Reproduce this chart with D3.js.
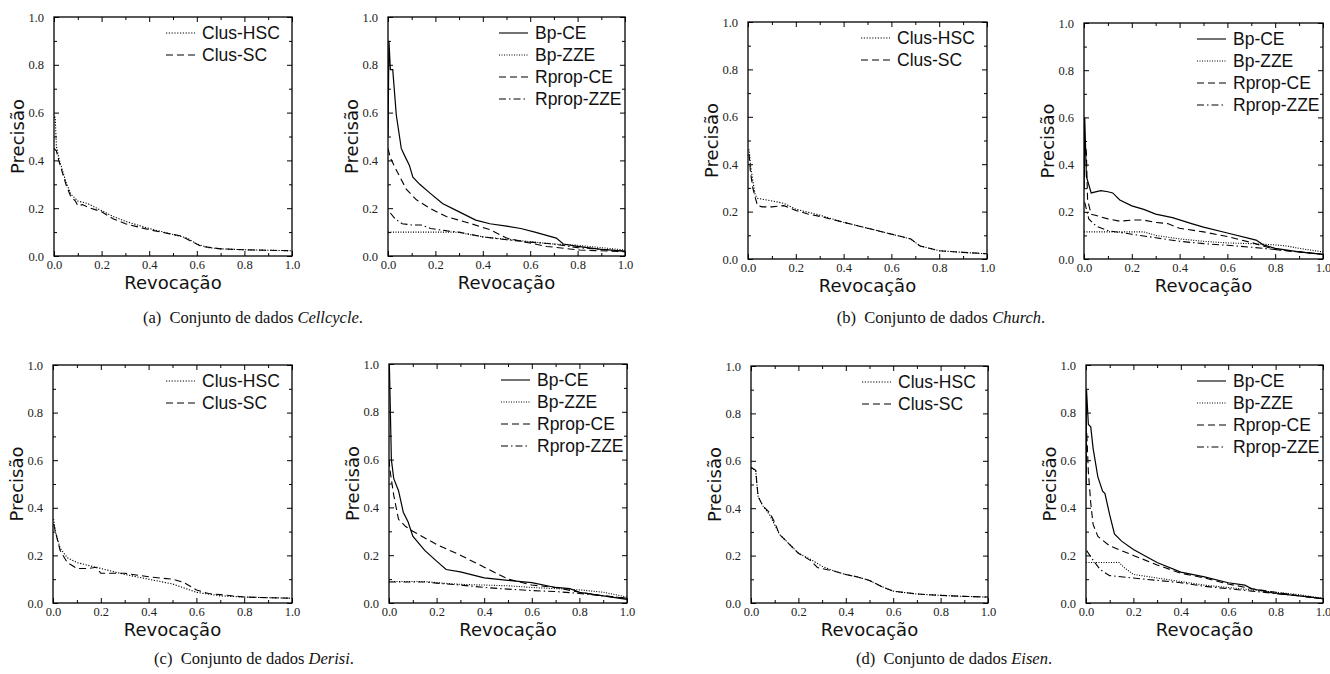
<!DOCTYPE html>
<html>
<head>
<meta charset="utf-8">
<script src="https://cdn.jsdelivr.net/npm/d3@7"></script>
<style>
  body { margin: 0; background: #fff; }
  svg { display: block; }
  .tick-label { font-family: "Liberation Serif", "Times New Roman", serif; font-size: 12.5px; fill: #222; }
  .axis-title { font-family: "DejaVu Sans", sans-serif; font-size: 18px; fill: #111; }
  .legend-text { font-family: "Liberation Sans", Arial, sans-serif; font-size: 17.5px; fill: #111; }
  .caption { font-family: "Liberation Serif", "Times New Roman", serif; font-size: 16.5px; fill: #111; }
</style>
</head>
<body>
<svg id="chart" width="1330" height="674"></svg>
<script>
// tick values shared by every panel
const majorTicks = [0, 0.2, 0.4, 0.6, 0.8, 1.0];
const minorTicks = [0.1, 0.3, 0.5, 0.7, 0.9];

// series names
const clusNames = ["Clus-HSC", "Clus-SC"];
const mlpNames = ["Bp-CE", "Bp-ZZE", "Rprop-CE", "Rprop-ZZE"];

// [recall, precision]
// Cellcycle
const cellHSC = [[0,0.58],[0.005,0.58],[0.01,0.46],[0.02,0.41],[0.05,0.31],[0.07,0.26],[0.1,0.23],[0.14,0.22],[0.2,0.19],[0.25,0.165],[0.3,0.145],[0.4,0.115],[0.5,0.09],[0.56,0.075],[0.6,0.05],[0.65,0.035],[0.7,0.03],[0.8,0.026],[0.9,0.024],[1.0,0.022]];
const cellSC = [[0,0.45],[0.01,0.44],[0.02,0.40],[0.05,0.30],[0.07,0.25],[0.09,0.23],[0.1,0.21],[0.12,0.215],[0.14,0.205],[0.2,0.185],[0.25,0.155],[0.3,0.135],[0.4,0.11],[0.5,0.09],[0.53,0.085],[0.58,0.06],[0.62,0.04],[0.7,0.03],[0.8,0.026],[1.0,0.022]];
const cellBpCE = [[0,0.5],[0.004,0.9],[0.01,0.78],[0.02,0.78],[0.035,0.59],[0.056,0.45],[0.07,0.42],[0.09,0.38],[0.105,0.33],[0.134,0.30],[0.176,0.264],[0.23,0.22],[0.29,0.19],[0.37,0.15],[0.43,0.135],[0.5,0.125],[0.56,0.115],[0.62,0.1],[0.71,0.075],[0.74,0.05],[0.8,0.04],[0.9,0.028],[1.0,0.02]];
const cellBpZZE = [[0,0.1],[0.1,0.1],[0.2,0.1],[0.28,0.1],[0.3,0.098],[0.4,0.08],[0.5,0.07],[0.6,0.06],[0.7,0.05],[0.8,0.045],[0.9,0.035],[1.0,0.025]];
const cellRpCE = [[0,0.45],[0.01,0.41],[0.035,0.36],[0.077,0.28],[0.12,0.235],[0.176,0.20],[0.246,0.165],[0.345,0.137],[0.43,0.11],[0.5,0.075],[0.57,0.06],[0.67,0.04],[0.81,0.025],[1.0,0.018]];
const cellRpZZE = [[0.01,0.18],[0.03,0.155],[0.06,0.135],[0.1,0.13],[0.14,0.13],[0.18,0.115],[0.25,0.105],[0.3,0.1],[0.4,0.08],[0.5,0.068],[0.6,0.058],[0.7,0.05],[0.8,0.035],[0.9,0.028],[1.0,0.02]];
// Church
const churHSC = [[0,0.46],[0.005,0.46],[0.01,0.4],[0.02,0.33],[0.03,0.27],[0.04,0.256],[0.1,0.245],[0.15,0.235],[0.2,0.21],[0.3,0.185],[0.4,0.155],[0.5,0.13],[0.6,0.105],[0.68,0.085],[0.72,0.055],[0.8,0.035],[0.9,0.028],[1.0,0.022]];
const churSC = [[0,0.44],[0.005,0.44],[0.01,0.37],[0.02,0.3],[0.03,0.26],[0.04,0.225],[0.06,0.22],[0.1,0.22],[0.15,0.225],[0.2,0.205],[0.25,0.19],[0.3,0.18],[0.4,0.155],[0.5,0.13],[0.6,0.105],[0.68,0.085],[0.72,0.055],[0.8,0.035],[0.9,0.028],[1.0,0.022]];
const churBpCE = [[0,0.3],[0.003,0.6],[0.01,0.35],[0.03,0.28],[0.07,0.29],[0.1,0.285],[0.12,0.28],[0.15,0.25],[0.2,0.225],[0.25,0.21],[0.3,0.19],[0.37,0.175],[0.45,0.15],[0.5,0.135],[0.6,0.11],[0.72,0.08],[0.75,0.06],[0.8,0.045],[0.9,0.03],[1.0,0.02]];
const churBpZZE = [[0,0.115],[0.1,0.115],[0.25,0.115],[0.3,0.1],[0.4,0.085],[0.5,0.075],[0.6,0.068],[0.7,0.065],[0.8,0.06],[0.85,0.055],[0.9,0.045],[1.0,0.03]];
const churRpCE = [[0,0.3],[0.005,0.5],[0.01,0.45],[0.015,0.25],[0.03,0.19],[0.1,0.17],[0.15,0.16],[0.2,0.165],[0.25,0.165],[0.3,0.155],[0.35,0.15],[0.4,0.13],[0.5,0.115],[0.6,0.095],[0.7,0.07],[0.8,0.04],[0.9,0.03],[1.0,0.02]];
const churRpZZE = [[0.003,0.24],[0.02,0.17],[0.05,0.14],[0.1,0.12],[0.2,0.105],[0.3,0.09],[0.4,0.075],[0.5,0.065],[0.6,0.058],[0.7,0.05],[0.8,0.04],[0.9,0.03],[1.0,0.02]];
// Derisi
const derHSC = [[0,0.35],[0.003,0.35],[0.01,0.3],[0.03,0.23],[0.06,0.19],[0.1,0.17],[0.2,0.145],[0.3,0.12],[0.4,0.1],[0.5,0.08],[0.6,0.045],[0.7,0.03],[0.8,0.025],[1.0,0.02]];
const derSC = [[0,0.33],[0.003,0.33],[0.01,0.3],[0.03,0.22],[0.06,0.17],[0.1,0.145],[0.15,0.145],[0.18,0.15],[0.2,0.125],[0.3,0.125],[0.4,0.11],[0.5,0.1],[0.55,0.085],[0.6,0.055],[0.65,0.04],[0.7,0.035],[0.8,0.025],[1.0,0.02]];
const derBpCE = [[0,1.0],[0.002,0.98],[0.01,0.6],[0.02,0.52],[0.04,0.47],[0.06,0.38],[0.08,0.34],[0.1,0.28],[0.15,0.22],[0.2,0.175],[0.24,0.14],[0.3,0.13],[0.4,0.105],[0.5,0.095],[0.6,0.085],[0.7,0.065],[0.76,0.06],[0.8,0.045],[0.9,0.03],[1.0,0.015]];
const derBpZZE = [[0,0.09],[0.15,0.09],[0.2,0.085],[0.3,0.078],[0.4,0.075],[0.5,0.072],[0.6,0.065],[0.7,0.06],[0.8,0.055],[0.9,0.045],[1.0,0.025]];
const derRpCE = [[0,0.6],[0.005,0.55],[0.02,0.45],[0.04,0.35],[0.07,0.32],[0.1,0.3],[0.2,0.245],[0.3,0.2],[0.4,0.15],[0.5,0.1],[0.6,0.075],[0.7,0.065],[0.8,0.045],[0.9,0.03],[1.0,0.02]];
const derRpZZE = [[0,0.088],[0.15,0.088],[0.2,0.083],[0.3,0.075],[0.4,0.065],[0.5,0.058],[0.6,0.052],[0.7,0.048],[0.8,0.04],[0.9,0.03],[1.0,0.02]];
// Eisen
const eisHSC = [[0,0.57],[0.003,0.57],[0.02,0.56],[0.025,0.5],[0.03,0.45],[0.05,0.41],[0.08,0.37],[0.1,0.33],[0.12,0.29],[0.15,0.26],[0.2,0.21],[0.25,0.185],[0.3,0.155],[0.35,0.135],[0.4,0.12],[0.45,0.11],[0.5,0.095],[0.55,0.07],[0.6,0.05],[0.7,0.038],[0.8,0.032],[0.9,0.028],[1.0,0.025]];
const eisSC = [[0,0.57],[0.003,0.57],[0.02,0.56],[0.025,0.5],[0.03,0.45],[0.05,0.41],[0.08,0.38],[0.1,0.34],[0.12,0.29],[0.15,0.26],[0.2,0.21],[0.25,0.18],[0.28,0.15],[0.3,0.145],[0.35,0.135],[0.4,0.12],[0.45,0.11],[0.5,0.095],[0.55,0.07],[0.6,0.05],[0.7,0.038],[0.8,0.032],[0.9,0.028],[1.0,0.025]];
const eisBpCE = [[0,0.5],[0.002,0.9],[0.01,0.75],[0.02,0.74],[0.03,0.65],[0.05,0.53],[0.07,0.47],[0.08,0.46],[0.1,0.37],[0.12,0.29],[0.15,0.26],[0.2,0.225],[0.3,0.17],[0.4,0.13],[0.5,0.11],[0.6,0.085],[0.67,0.075],[0.7,0.06],[0.8,0.04],[0.9,0.03],[1.0,0.018]];
const eisBpZZE = [[0,0.17],[0.14,0.17],[0.16,0.15],[0.2,0.12],[0.3,0.105],[0.4,0.09],[0.5,0.075],[0.6,0.065],[0.7,0.055],[0.8,0.045],[0.9,0.035],[1.0,0.02]];
const eisRpCE = [[0,0.5],[0.003,0.72],[0.01,0.55],[0.02,0.42],[0.03,0.33],[0.05,0.28],[0.1,0.24],[0.2,0.2],[0.3,0.16],[0.4,0.125],[0.5,0.105],[0.6,0.08],[0.7,0.06],[0.8,0.045],[0.9,0.03],[1.0,0.018]];
const eisRpZZE = [[0.003,0.22],[0.03,0.18],[0.06,0.14],[0.1,0.115],[0.2,0.105],[0.3,0.095],[0.4,0.085],[0.5,0.07],[0.6,0.06],[0.7,0.05],[0.8,0.04],[0.9,0.03],[1.0,0.018]];

// captions
const captions = [
  {tag: "(a)", name: "Cellcycle"},
  {tag: "(b)", name: "Church"},
  {tag: "(c)", name: "Derisi"},
  {tag: "(d)", name: "Eisen"}
];

// line style per series
const dashes = {
  "Clus-HSC": "1.2,1.6",
  "Clus-SC": "7,4",
  "Bp-CE": null,
  "Bp-ZZE": "1,1.5",
  "Rprop-CE": "7,4",
  "Rprop-ZZE": "7,3,1.5,3"
};

// panel boxes (pixels) with their series
const panels = [
  {l: 54, r: 292, t: 17, b: 256, names: clusNames, data: [cellHSC, cellSC]},
  {l: 388, r: 625, t: 17, b: 256, names: mlpNames, data: [cellBpCE, cellBpZZE, cellRpCE, cellRpZZE]},
  {l: 748, r: 987, t: 22, b: 259, names: clusNames, data: [churHSC, churSC]},
  {l: 1084, r: 1323, t: 23, b: 259, names: mlpNames, data: [churBpCE, churBpZZE, churRpCE, churRpZZE]},
  {l: 53, r: 292, t: 365, b: 603, names: clusNames, data: [derHSC, derSC]},
  {l: 389, r: 627, t: 364, b: 603, names: mlpNames, data: [derBpCE, derBpZZE, derRpCE, derRpZZE]},
  {l: 751, r: 988, t: 366, b: 603, names: clusNames, data: [eisHSC, eisSC]},
  {l: 1086, r: 1323, t: 365, b: 603, names: mlpNames, data: [eisBpCE, eisBpZZE, eisRpCE, eisRpZZE]}
];
const captionPos = [[253, 323], [941, 323], [254, 664], [954, 664]];

const svg = d3.select("#chart");
const fmt = d3.format(".1f");

panels.forEach(function(p) {
  const x = d3.scaleLinear().domain([0, 1]).range([p.l, p.r]);
  const y = d3.scaleLinear().domain([0, 1]).range([p.b, p.t]);
  const g = svg.append("g");

  // curves, clipped to the box
  const clipId = "clip" + p.l + "_" + p.t;
  svg.append("clipPath").attr("id", clipId)
    .append("rect").attr("x", p.l).attr("y", p.t - 1).attr("width", p.r - p.l).attr("height", p.b - p.t + 1);
  const line = d3.line().x(d => x(d[0])).y(d => y(d[1]));
  p.data.forEach(function(series, i) {
    g.append("path")
      .datum(series)
      .attr("clip-path", "url(#" + clipId + ")")
      .attr("d", line)
      .attr("fill", "none")
      .attr("stroke", "#000")
      .attr("stroke-width", p.names[i] == "Bp-CE" ? 1.2 : 1.1)
      .attr("stroke-dasharray", dashes[p.names[i]]);
  });

  // inside ticks on all four sides
  const axes = [
    d3.axisBottom(x).tickValues(majorTicks).tickSize(-5).tickFormat(fmt).tickPadding(10),
    d3.axisLeft(y).tickValues(majorTicks).tickSize(-5).tickFormat(fmt).tickPadding(10),
    d3.axisTop(x).tickValues(majorTicks).tickSize(-5).tickFormat(""),
    d3.axisRight(y).tickValues(majorTicks).tickSize(-5).tickFormat("")
  ];
  const minor = [
    d3.axisBottom(x).tickValues(minorTicks).tickSize(-3).tickFormat(""),
    d3.axisLeft(y).tickValues(minorTicks).tickSize(-3).tickFormat(""),
    d3.axisTop(x).tickValues(minorTicks).tickSize(-3).tickFormat(""),
    d3.axisRight(y).tickValues(minorTicks).tickSize(-3).tickFormat("")
  ];
  const shifts = ["0," + p.b, p.l + ",0", "0," + p.t, p.r + ",0"];
  axes.forEach(function(ax, k) {
    const a = g.append("g").attr("transform", "translate(" + shifts[k] + ")").call(ax);
    a.select(".domain").remove();
    a.selectAll("text").attr("class", "tick-label").attr("fill", null);
    if (k == 0) a.selectAll("text").attr("dy", "0.2em");
    const m = g.append("g").attr("transform", "translate(" + shifts[k] + ")").call(minor[k]);
    m.select(".domain").remove();
  });
  g.selectAll(".tick line").attr("stroke", "#000").attr("stroke-width", 1);

  // frame
  g.append("rect")
    .attr("x", p.l).attr("y", p.t)
    .attr("width", p.r - p.l).attr("height", p.b - p.t)
    .attr("fill", "none").attr("stroke", "#000").attr("stroke-width", 1.3);

  // axis titles
  g.append("text").attr("class", "axis-title")
    .attr("x", (p.l + p.r) / 2).attr("y", p.b + 33)
    .attr("text-anchor", "middle").text("Revocação");
  g.append("text").attr("class", "axis-title")
    .attr("transform", "translate(" + (p.l - 30) + "," + ((p.t + p.b) / 2) + ") rotate(-90)")
    .attr("text-anchor", "middle").text("Precisão");

  // legend
  const lg = g.append("g");
  p.names.forEach(function(name, i) {
    const ly = p.t + 16 + i * 22;
    lg.append("line")
      .attr("x1", p.r - 126).attr("x2", p.r - 97)
      .attr("y1", ly).attr("y2", ly)
      .attr("stroke", "#000").attr("stroke-width", 1.1)
      .attr("stroke-dasharray", dashes[name]);
    lg.append("text").attr("class", "legend-text")
      .attr("x", p.r - 90).attr("y", ly + 6).text(name);
  });
});

// captions
captions.forEach(function(c, i) {
  const t = svg.append("text").attr("class", "caption")
    .attr("x", captionPos[i][0]).attr("y", captionPos[i][1])
    .attr("text-anchor", "middle");
  t.append("tspan").text(c.tag + "\u2002Conjunto de dados ");
  t.append("tspan").attr("font-style", "italic").text(c.name);
  t.append("tspan").text(".");
});
</script>
</body>
</html>
